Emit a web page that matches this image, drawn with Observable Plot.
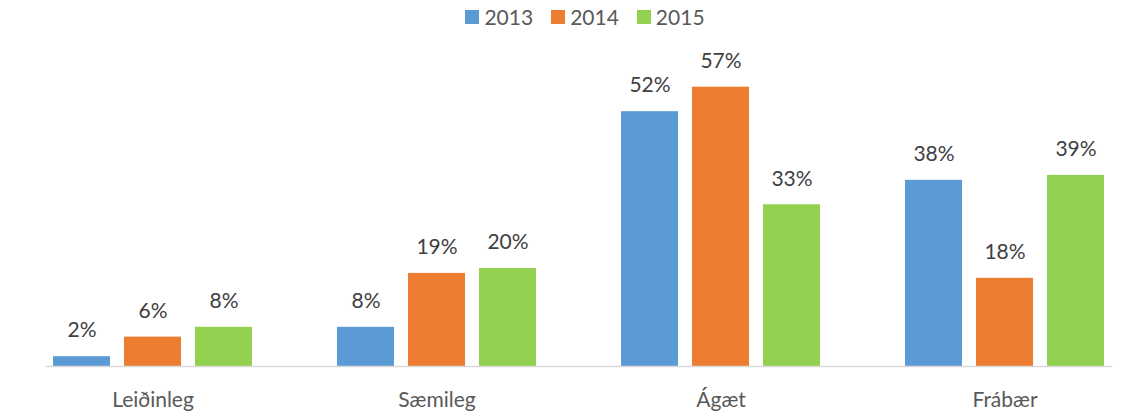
<!DOCTYPE html>
<html>
<head>
<meta charset="utf-8">
<script src="https://cdn.jsdelivr.net/npm/d3@7"></script>
<script src="https://cdn.jsdelivr.net/npm/@observablehq/plot@0.6"></script>
<style>
  body { margin: 0; background: #fff; }
  #wrap { position: relative; width: 1142px; height: 412px; font-family: Lato, "Open Sans", sans-serif; }
  #legend { position: absolute; top: 4px; left: 14px; width: 1142px; display: flex; justify-content: center; gap: 18px; font-size: 21px; color: #595959; }
  #legend .item { display: flex; align-items: center; }
  #legend .sw { width: 14px; height: 14px; margin-right: 5px; display: inline-block; }
</style>
</head>
<body>
<div id="wrap">
  <div id="legend"></div>
  <div id="chart"></div>
</div>
<script>
const categories = ["Leiðinleg", "Sæmileg", "Ágæt", "Frábær"];
const years = ["2013", "2014", "2015"];
const colors = ["#5B9BD5", "#ED7D31", "#92D050"];
const values2013 = [2, 8, 52, 38];
const values2014 = [6, 19, 57, 18];
const values2015 = [8, 20, 33, 39];

const series = [values2013, values2014, values2015];
const data = [];
categories.forEach((c, i) => {
  years.forEach((y, j) => data.push({category: c, year: y, value: series[j][i]}));
});

const legend = document.getElementById("legend");
years.forEach((y, j) => {
  const item = document.createElement("span");
  item.className = "item";
  const sw = document.createElement("span");
  sw.className = "sw";
  sw.style.background = colors[j];
  item.appendChild(sw);
  item.appendChild(document.createTextNode(y));
  legend.appendChild(item);
});

const chart = Plot.plot({
  width: 1142,
  height: 412,
  marginTop: 72,
  marginBottom: 46,
  marginLeft: 10,
  marginRight: 0,
  style: {fontFamily: "Lato, 'Open Sans', sans-serif", background: "#fff"},
  fx: {domain: categories, range: [10.5, 1146.5], paddingInner: 0.25, paddingOuter: 0.125, label: null, axis: null},
  x: {domain: years, paddingInner: 0.2, paddingOuter: 0.1, axis: null},
  y: {domain: [0, 60], axis: null},
  color: {domain: years, range: colors},
  marks: [
    Plot.barY(data, {fx: "category", x: "year", y: "value", fill: "year"}),
    Plot.text(data, {fx: "category", x: "year", y: "value", text: d => d.value + "%", dy: -26, fontSize: 21, fill: "#404040"}),
    Plot.text(categories, {fx: d => d, frameAnchor: "bottom", dy: 40, text: d => d, fontSize: 21, fill: "#595959"}),
    Plot.frame({anchor: "bottom", stroke: "#d9d9d9", strokeWidth: 1.5, facet: "super"})
  ]
});
document.getElementById("chart").appendChild(chart);
</script>
</body>
</html>
